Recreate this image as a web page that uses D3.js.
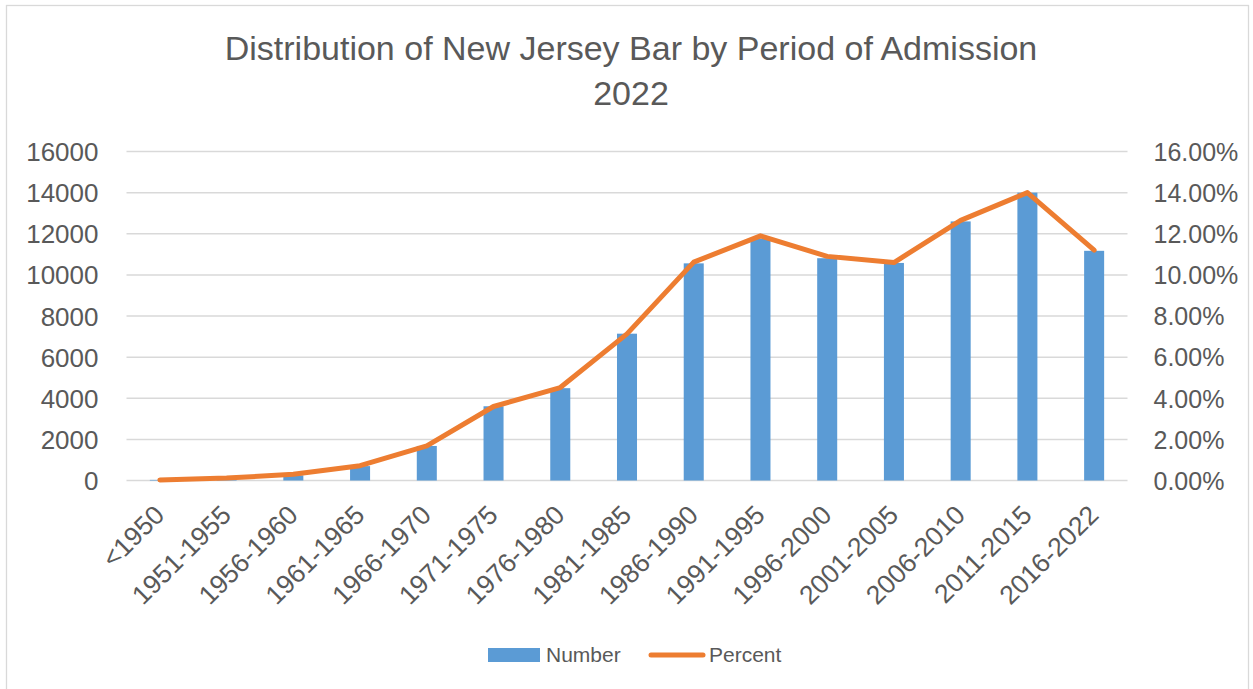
<!DOCTYPE html>
<html>
<head>
<meta charset="utf-8">
<script src="https://cdn.jsdelivr.net/npm/d3@7"></script>
<style>
  html, body { margin: 0; padding: 0; background: #fff; }
  svg { display: block; font-family: "Liberation Sans", Arial, sans-serif; }
</style>
</head>
<body>
<svg id="chart" width="1253" height="689"></svg>
<script>
// Admission periods
const periods = ["<1950", "1951-1955", "1956-1960", "1961-1965", "1966-1970", "1971-1975",
  "1976-1980", "1981-1985", "1986-1990", "1991-1995", "1996-2000", "2001-2005",
  "2006-2010", "2011-2015", "2016-2022"];
// Number of attorneys admitted in each period
const numbers = [30, 110, 250, 700, 1680, 3610, 4490, 7140, 10560, 11770, 10810, 10580, 12600, 14000, 11170];
// Share of the bar (percent)
const percents = [0.03, 0.12, 0.30, 0.72, 1.68, 3.60, 4.52, 7.13, 10.62, 11.90, 10.90, 10.60, 12.65, 14.00, 11.20];
// Axis ticks
const leftTicks = [0, 2000, 4000, 6000, 8000, 10000, 12000, 14000, 16000];
const rightTicks = [0, 2, 4, 6, 8, 10, 12, 14, 16];
const titleLines = ["Distribution of New Jersey Bar by Period of Admission", "2022"];

const svg = d3.select("#chart");
const textColor = "#595959";
const gridColor = "#d9d9d9";
const blue = "#5B9BD5";
const orange = "#ED7D31";

// frame
svg.append("rect")
  .attr("x", 6.5).attr("y", 5.5).attr("width", 1242).attr("height", 700)
  .attr("fill", "#fff").attr("stroke", gridColor).attr("stroke-width", 1.3);

const plot = { left: 126.5, right: 1127.5, top: 151.5, bottom: 480.5 };

const x = d3.scaleBand().domain(periods).range([plot.left, plot.right])
  .paddingInner(0.7).paddingOuter(0.35);
const yL = d3.scaleLinear().domain([0, 16000]).range([plot.bottom, plot.top]);
const yR = d3.scaleLinear().domain([0, 16]).range([plot.bottom, plot.top]);

// title
svg.append("text")
  .attr("x", 631).attr("y", 60)
  .attr("text-anchor", "middle")
  .attr("fill", textColor)
  .style("font-size", "34px")
  .selectAll("tspan").data(titleLines).join("tspan")
  .attr("x", 631).attr("dy", (d, i) => i === 0 ? 0 : 45)
  .text(d => d);

// gridlines
svg.append("g").selectAll("line").data(leftTicks).join("line")
  .attr("x1", plot.left).attr("x2", plot.right)
  .attr("y1", d => yL(d)).attr("y2", d => yL(d))
  .attr("stroke", gridColor).attr("stroke-width", 1.5);

// left axis
const leftAxis = svg.append("g")
  .attr("transform", `translate(${plot.left - 28},0)`)
  .call(d3.axisLeft(yL).tickValues(leftTicks).tickSize(0).tickPadding(0).tickFormat(d3.format("d")));
leftAxis.select(".domain").remove();
leftAxis.selectAll("text").attr("fill", textColor).style("font-size", "26px")
  .attr("dy", "0.35em").style("font-family", "Liberation Sans, Arial, sans-serif");

// right axis
const rightAxis = svg.append("g")
  .attr("transform", `translate(${plot.right + 26},0)`)
  .call(d3.axisRight(yR).tickValues(rightTicks).tickSize(0).tickPadding(0)
    .tickFormat(d => d3.format(".2f")(d) + "%"));
rightAxis.select(".domain").remove();
rightAxis.selectAll("text").attr("fill", textColor).style("font-size", "25px")
  .attr("dy", "0.35em").style("font-family", "Liberation Sans, Arial, sans-serif");

// bars
svg.append("g").selectAll("rect").data(periods).join("rect")
  .attr("x", d => x(d))
  .attr("width", x.bandwidth())
  .attr("y", (d, i) => yL(numbers[i]))
  .attr("height", (d, i) => yL(0) - yL(numbers[i]))
  .attr("fill", blue);

// percent line
const line = d3.line()
  .x((d, i) => x(periods[i]) + x.bandwidth() / 2)
  .y(d => yR(d));
svg.append("path").datum(percents)
  .attr("d", line)
  .attr("fill", "none").attr("stroke", orange)
  .attr("stroke-width", 5).attr("stroke-linejoin", "round").attr("stroke-linecap", "round");

// x axis category labels
const bottomAxis = svg.append("g")
  .attr("transform", `translate(0,${plot.bottom})`)
  .call(d3.axisBottom(x).tickSize(0).tickPadding(0));
bottomAxis.select(".domain").remove();
bottomAxis.selectAll("text")
  .attr("fill", textColor).style("font-size", "26.5px")
  .style("font-family", "Liberation Sans, Arial, sans-serif")
  .attr("text-anchor", "end")
  .attr("dy", null)
  .attr("transform", "translate(6,36) rotate(-45)");

// legend
const legend = svg.append("g");
legend.append("rect").attr("x", 488).attr("y", 648).attr("width", 52).attr("height", 14).attr("fill", blue);
legend.append("text").attr("x", 546).attr("y", 662).attr("fill", textColor)
  .style("font-size", "21px").text("Number");
legend.append("line").attr("x1", 651).attr("x2", 703).attr("y1", 655).attr("y2", 655)
  .attr("stroke", orange).attr("stroke-width", 5).attr("stroke-linecap", "round");
legend.append("text").attr("x", 709).attr("y", 662).attr("fill", textColor)
  .style("font-size", "21px").text("Percent");
</script>
</body>
</html>
